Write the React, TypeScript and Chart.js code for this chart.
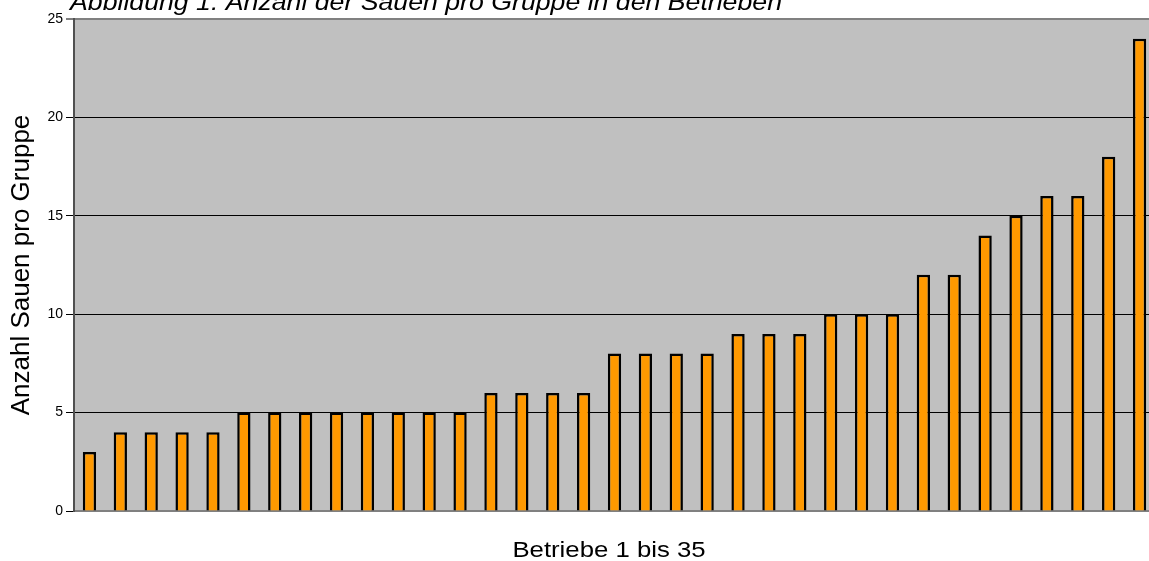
import React, { useEffect, useRef } from "react";
import { Chart, registerables } from "chart.js";

Chart.register(...registerables);

const TITLE = "Abbildung 1: Anzahl der Sauen pro Gruppe in den Betrieben";
const X_TITLE = "Betriebe 1 bis 35";
const Y_TITLE = "Anzahl Sauen pro Gruppe";

const CATEGORIES: string[] = Array.from({ length: 35 }, (_, i) => String(i + 1));
const SOWS_PER_GROUP: number[] = [
  3, 4, 4, 4, 4, 5, 5, 5, 5, 5, 5, 5, 5, 6, 6, 6, 6, 8, 8, 8, 8, 9, 9, 9, 10, 10, 10, 12, 12, 14, 15, 16, 16, 18, 24,
];
const Y_MIN = 0;
const Y_MAX = 25;
const Y_STEP = 5;

const FONT = '"Liberation Sans", Arial, sans-serif';

export default function App() {
  const canvasRef = useRef<HTMLCanvasElement | null>(null);

  useEffect(() => {
    const canvas = canvasRef.current;
    if (!canvas) return;

    const backgroundPlugin = {
      id: "plotBg",
      beforeDraw(chart: any) {
        const { ctx, chartArea } = chart;
        ctx.save();
        ctx.fillStyle = "#C0C0C0";
        ctx.fillRect(chartArea.left, chartArea.top, chartArea.right - chartArea.left, chartArea.bottom - chartArea.top);
        ctx.restore();
      },
    };

    const textPlugin = {
      id: "texts",
      afterDraw(chart: any) {
        const { ctx, chartArea } = chart;
        ctx.save();
        ctx.fillStyle = "#000";
        // main title (cut off at top)
        ctx.save();
        ctx.translate(70, 10);
        ctx.scale(1.16, 1);
        ctx.font = `italic 23px ${FONT}`;
        ctx.textAlign = "left";
        ctx.textBaseline = "alphabetic";
        ctx.fillText(TITLE, 0, 0);
        ctx.restore();
        // x title
        ctx.save();
        ctx.translate(609, 557);
        ctx.scale(1.17, 1);
        ctx.font = `22px ${FONT}`;
        ctx.textAlign = "center";
        ctx.textBaseline = "alphabetic";
        ctx.fillText(X_TITLE, 0, 0);
        ctx.restore();
        // y title
        ctx.save();
        ctx.translate(22, (chartArea.top + chartArea.bottom) / 2);
        ctx.rotate(-Math.PI / 2);
        ctx.font = `26px ${FONT}`;
        ctx.textAlign = "center";
        ctx.textBaseline = "middle";
        ctx.fillText(Y_TITLE, 0, 0);
        ctx.restore();
        ctx.restore();
      },
    };

    const chart = new Chart(canvas, {
      type: "bar",
      data: {
        labels: CATEGORIES,
        datasets: [
          {
            data: SOWS_PER_GROUP,
            backgroundColor: "#FF9900",
            borderColor: "#000000",
            borderWidth: 2.5,
            barPercentage: 0.43,
            categoryPercentage: 1,
          },
        ],
      },
      options: {
        animation: false,
        responsive: false,
        devicePixelRatio: 1,
        layout: { padding: { top: 19, right: 5, left: 0, bottom: 0 } },
        plugins: {
          legend: { display: false },
          tooltip: { enabled: false },
          title: { display: false },
        },
        scales: {
          x: {
            grid: { display: false, drawTicks: false },
            ticks: { display: false },
            border: { display: true, color: "#808080", width: 2 },
            afterFit(scale: any) {
              scale.height = 50;
            },
          },
          y: {
            min: Y_MIN,
            max: Y_MAX,
            ticks: {
              stepSize: Y_STEP,
              color: "#000",
              font: { family: FONT, size: 14 },
              padding: 3,
            },
            grid: {
              color: (c: any) =>
                c.tick && c.tick.value === Y_MAX ? "#808080" : c.tick && c.tick.value === Y_MIN ? "rgba(0,0,0,0)" : "#000",
              lineWidth: (c: any) => (c.tick && c.tick.value === Y_MAX ? 2 : 1),
              tickColor: "#000",
              tickLength: 8,
              tickWidth: 1,
            },
            border: { display: true, color: "#505050", width: 2 },
            afterFit(scale: any) {
              scale.width = 74;
            },
          },
        },
      },
      plugins: [backgroundPlugin, textPlugin],
    } as any);

    return () => chart.destroy();
  }, []);

  return (
    <div
      style={{
        position: "fixed",
        left: 0,
        top: 0,
        width: 1149,
        height: 561,
        overflow: "hidden",
        background: "#fff",
      }}
    >
      <canvas ref={canvasRef} width={1160} height={561} style={{ display: "block" }} />
    </div>
  );
}
